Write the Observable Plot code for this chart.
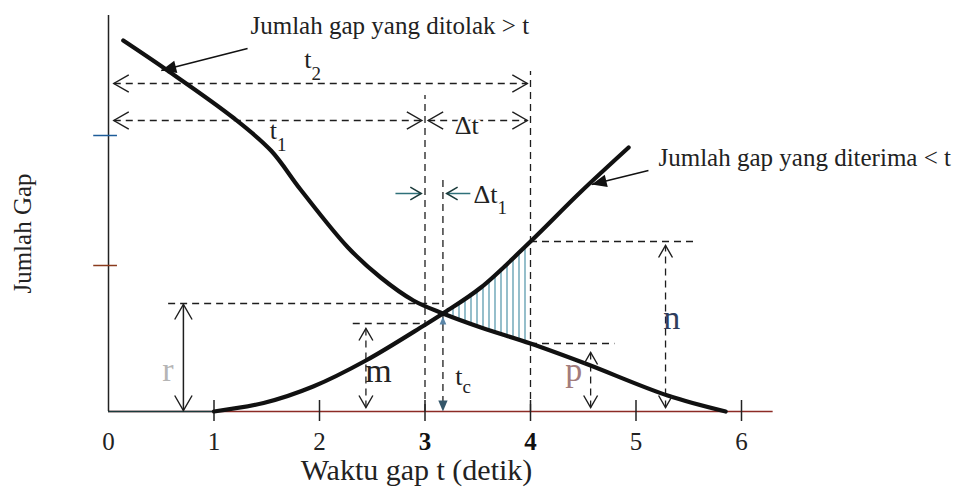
<!DOCTYPE html>
<html><head><meta charset="utf-8">
<script src="https://cdn.jsdelivr.net/npm/d3@7"></script>
<script src="https://cdn.jsdelivr.net/npm/@observablehq/plot@0.6"></script>
<style>body{margin:0;background:#fff}</style>
</head><body><div id="chart"></div>
<script>
// ---- data ----
// accepted gaps (< t): increasing curve
const acceptedT = [1.0, 1.47, 1.94, 2.44, 2.99, 3.17, 3.53, 4.0, 4.47, 4.93];
const acceptedN = [0, 0.85, 2.5, 5.1, 8.6, 9.8, 12.4, 17.0, 21.9, 26.4];
// rejected gaps (> t): decreasing curve
const rejectedT = [0.14, 0.56, 1.18, 1.54, 1.82, 2.27, 2.58, 2.89, 3.17, 3.53, 4.0, 4.52, 5.3, 5.85];
const rejectedN = [37.1, 34.1, 29.4, 26.1, 22.2, 16.4, 13.4, 11.1, 9.8, 8.4, 6.8, 4.8, 1.6, 0];
// hatched region between the curves (tc .. 4)
const shadeT = [3.17, 3.35, 3.53, 3.76, 4.0];
const shadeLow = [9.8, 9.1, 8.4, 7.6, 6.8];
const shadeHigh = [9.8, 11.0, 12.4, 14.5, 17.0];
// axis ticks
const xTickValues = [0, 1, 2, 3, 4, 5, 6];
const xBoldTicks = [3, 4];
const yTickValues = [14.6, 27.6];
const xAxisEnd = 6.3;
const yAxisEnd = 39.6;
const tc = 3.17;
// dashed reference lines
const refVertical = [
  {x: 3, y1: 0, y2: 31.6},
  {x: tc, y1: 0.8, y2: 23.5},
  {x: 4, y1: 0, y2: 34}
];
const refHorizontal = [
  {y: 10.8, x1: 0.57, x2: tc},   // r
  {y: 8.8, x1: 2.32, x2: 3},     // m
  {y: 17.0, x1: 4, x2: 5.57},    // n
  {y: 6.8, x1: 4, x2: 4.8}       // p
];
// double-headed dimension arrows
const dimArrows = [
  {x1: 0.05, y1: 32.8, x2: 3.97, y2: 32.8, dashed: true, big: true},  // t2
  {x1: 0.05, y1: 29.1, x2: 2.97, y2: 29.1, dashed: true, big: true},  // t1
  {x1: 3.03, y1: 29.1, x2: 3.97, y2: 29.1, dashed: true, big: true},  // Δt
  {x1: 0.71, y1: 0.1, x2: 0.71, y2: 10.7, dashed: false, big: true},  // r
  {x1: 2.44, y1: 0.4, x2: 2.44, y2: 8.3, dashed: true, big: false},   // m
  {x1: 4.57, y1: 0.4, x2: 4.57, y2: 5.9, dashed: true, big: false},   // p
  {x1: 5.28, y1: 0.4, x2: 5.28, y2: 16.6, dashed: true, big: false}   // n
];
// single-headed Δt1 arrows
const dt1Arrows = [
  {x1: 2.72, y1: 21.8, x2: 2.965, y2: 21.8},
  {x1: 3.43, y1: 21.8, x2: 3.205, y2: 21.8}
];
// callouts
const callouts = [
  {text: "Jumlah gap yang ditolak > t", tx: 1.346, ty: 38.58, x1: 1.318, y1: 36.3, x2: 0.50, y2: 34.1},
  {text: "Jumlah gap yang diterima < t", tx: 5.213, ty: 25.4, x1: 5.118, y1: 24.1, x2: 4.58, y2: 22.7}
];
// single letter labels
const letterLabels = [
  {text: "r", x: 0.564, y: 4.12},
  {text: "m", x: 2.56, y: 4.02},
  {text: "n", x: 5.34, y: 9.36},
  {text: "p", x: 4.41, y: 4.09}
];
const letterColors = ["#b5b5b5", "#222222", "#2f3d5c", "#a27c7c"];
// symbols with subscripts: x = junction between main text and subscript
const subLabels = [
  {main: "t", sub: "2", x: 1.924, y: 35.2, sy: 34.4},
  {main: "t", sub: "1", x: 1.597, y: 28.1, sy: 27.3},
  {main: "Δt", sub: "", x: 3.51, y: 28.6, sy: 28.6},
  {main: "Δt", sub: "1", x: 3.687, y: 21.7, sy: 21.0},
  {main: "t", sub: "c", x: 3.355, y: 3.53, sy: 3.1}
];

// ---- layout ----
const W = 958, H = 489, ML = 108, MR = 6, MT = 11, MB = 78;
const xDomain = [0, 8], yDomain = [0, 40];
const kx = (W - ML - MR) / (xDomain[1] - xDomain[0]);
const ky = (H - MT - MB) / (yDomain[1] - yDomain[0]);
const serif = "Liberation Serif, Times New Roman, serif";

const accepted = acceptedT.map((t, i) => ({t, n: acceptedN[i]}));
const rejected = rejectedT.map((t, i) => ({t, n: rejectedN[i]}));
const shade = shadeT.map((t, i) => ({t, lo: shadeLow[i], hi: shadeHigh[i]}));

const chevron = {draw(ctx, size) {
  const r = Math.sqrt(size / Math.PI), w = r * 0.58;
  ctx.moveTo(-r, -w); ctx.lineTo(0, 0); ctx.lineTo(-r, w);
}};
const solidHead = {draw(ctx, size) {
  const r = Math.sqrt(size / Math.PI), w = r * 0.42;
  ctx.moveTo(0, 0); ctx.lineTo(-r, -w); ctx.lineTo(-r, w); ctx.closePath();
}};
const angleOf = (a) => Math.atan2(-(a.y2 - a.y1) * ky, (a.x2 - a.x1) * kx) * 180 / Math.PI;
function headsOf(arrows, both) {
  const out = [];
  for (const a of arrows) {
    const ang = angleOf(a);
    out.push({x: a.x2, y: a.y2, rotate: ang, big: a.big});
    if (both) out.push({x: a.x1, y: a.y1, rotate: ang + 180, big: a.big});
  }
  return out;
}
const dimHeads = headsOf(dimArrows, true);
const dtHeads = headsOf(dt1Arrows, false);
const calloutHeads = headsOf(callouts, false);

const dash = "7,5";
const ink = "#1e1e1e";

const plot = Plot.plot({
  width: W, height: H,
  marginLeft: ML, marginRight: MR, marginTop: MT, marginBottom: MB,
  x: {domain: xDomain, axis: null},
  y: {domain: yDomain, axis: null},
  style: {fontFamily: serif, background: "white", overflow: "visible"},
  marks: [
    // hatched area
    Plot.areaY(shade, {x: "t", y1: "lo", y2: "hi", fill: "url(#hatch)", curve: "catmull-rom"}),
    // dashed reference lines
    Plot.ruleX(refVertical, {x: "x", y1: "y1", y2: "y2", stroke: ink, strokeWidth: 1.3, strokeDasharray: dash}),
    Plot.ruleY(refHorizontal, {y: "y", x1: "x1", x2: "x2", stroke: ink, strokeWidth: 1.3, strokeDasharray: dash}),
    // dimension arrows shafts
    Plot.link(dimArrows.filter(d => d.dashed), {x1: "x1", y1: "y1", x2: "x2", y2: "y2", stroke: ink, strokeWidth: 1.3, strokeDasharray: dash}),
    Plot.link(dimArrows.filter(d => !d.dashed), {x1: "x1", y1: "y1", x2: "x2", y2: "y2", stroke: ink, strokeWidth: 1.5}),
    Plot.link(dt1Arrows, {x1: "x1", y1: "y1", x2: "x2", y2: "y2", stroke: "#2f7079", strokeWidth: 1.5}),
    // axes
    Plot.ruleY([0], {x1: 0, x2: xAxisEnd, stroke: "#8c2b25", strokeWidth: 1.5}),
    Plot.ruleY([0], {x1: 0, x2: 1, stroke: "#1b3a3c", strokeWidth: 1.5}),
    Plot.ruleX([0], {y1: 0, y2: yAxisEnd, stroke: "#222", strokeWidth: 1.5}),
    Plot.ruleX(xTickValues.filter(d => d > 0), {x: d => d, y1: -1.0, y2: 1.1, stroke: "#222", strokeWidth: 1.5}),
    Plot.ruleY(yTickValues, {y: d => d, x1: -0.14, x2: 0.085, stroke: (d, i) => i === 0 ? "#8a3b1c" : "#1d5c99", strokeWidth: 1.5}),
    Plot.text(xTickValues.filter(d => !xBoldTicks.includes(d)), {x: d => d, y: 0, dy: 30, text: d => String(d), fontSize: 25, fill: "#222"}),
    Plot.text(xBoldTicks, {x: d => d, y: 0, dy: 30, text: d => String(d), fontSize: 25, fontWeight: "bold", fill: "#111"}),
    Plot.text(["Waktu gap t (detik)"], {frameAnchor: "bottom", lineAnchor: "middle", textAnchor: "middle", dx: -114, dy: 59, fontSize: 30, fill: "#222"}),
    Plot.text(["Jumlah Gap"], {frameAnchor: "left", lineAnchor: "middle", textAnchor: "middle", dx: -86, dy: 22, rotate: -90, fontSize: 25, fill: "#222"}),
    // curves
    Plot.line(rejected, {x: "t", y: "n", stroke: "#111", strokeWidth: 4.2, curve: "catmull-rom"}),
    Plot.line(accepted, {x: "t", y: "n", stroke: "#111", strokeWidth: 4.2, curve: "catmull-rom"}),
    // arrow heads
    Plot.dot(dimHeads.filter(d => d.big), {x: "x", y: "y", rotate: "rotate", symbol: chevron, r: 15, fill: "none", stroke: ink, strokeWidth: 1.4}),
    Plot.dot(dimHeads.filter(d => !d.big), {x: "x", y: "y", rotate: "rotate", symbol: chevron, r: 12, fill: "none", stroke: ink, strokeWidth: 1.4}),
    Plot.dot(dtHeads, {x: "x", y: "y", rotate: "rotate", symbol: chevron, r: 11, fill: "none", stroke: "#1a3a3a", strokeWidth: 1.5}),
    Plot.dot([{x: tc, y: 0, rotate: 90}], {x: "x", y: "y", rotate: "rotate", symbol: solidHead, r: 11, fill: "#34566a", stroke: "none"}),
    Plot.dot([{x: tc, y: 9.5, rotate: -90}], {x: "x", y: "y", rotate: "rotate", symbol: solidHead, r: 8, fill: "#5b86a8", stroke: "none"}),
    // callouts
    Plot.link(callouts, {x1: "x1", y1: "y1", x2: "x2", y2: "y2", stroke: "#111", strokeWidth: 1.5}),
    Plot.dot(calloutHeads, {x: "x", y: "y", rotate: "rotate", symbol: solidHead, r: 15, fill: "#111", stroke: "none"}),
    Plot.text(callouts, {x: "tx", y: "ty", text: "text", textAnchor: "start", fontSize: 25, fill: "#222"}),
    // labels
    Plot.text(letterLabels, {x: "x", y: "y", text: "text", fontSize: 34, fill: (d, i) => letterColors[i]}),
    Plot.text(subLabels, {x: "x", y: "y", text: "main", textAnchor: "end", fontSize: 26, fill: "#222", stroke: "white", strokeWidth: 5}),
    Plot.text(subLabels, {x: "x", y: "sy", text: "sub", textAnchor: "start", dy: 6, fontSize: 19, fill: "#222"})
  ],
  color: {type: "identity"}
});

// hatch pattern definition
const ns = "http://www.w3.org/2000/svg";
const defs = document.createElementNS(ns, "defs");
const pat = document.createElementNS(ns, "pattern");
pat.setAttribute("id", "hatch");
pat.setAttribute("patternUnits", "userSpaceOnUse");
pat.setAttribute("width", "6");
pat.setAttribute("height", "6");
const ln = document.createElementNS(ns, "line");
ln.setAttribute("x1", "3"); ln.setAttribute("y1", "0");
ln.setAttribute("x2", "3"); ln.setAttribute("y2", "6");
ln.setAttribute("stroke", "#4e93a8"); ln.setAttribute("stroke-width", "1.2");
pat.appendChild(ln); defs.appendChild(pat);
plot.insertBefore(defs, plot.firstChild);
document.getElementById("chart").appendChild(plot);
</script></body></html>
